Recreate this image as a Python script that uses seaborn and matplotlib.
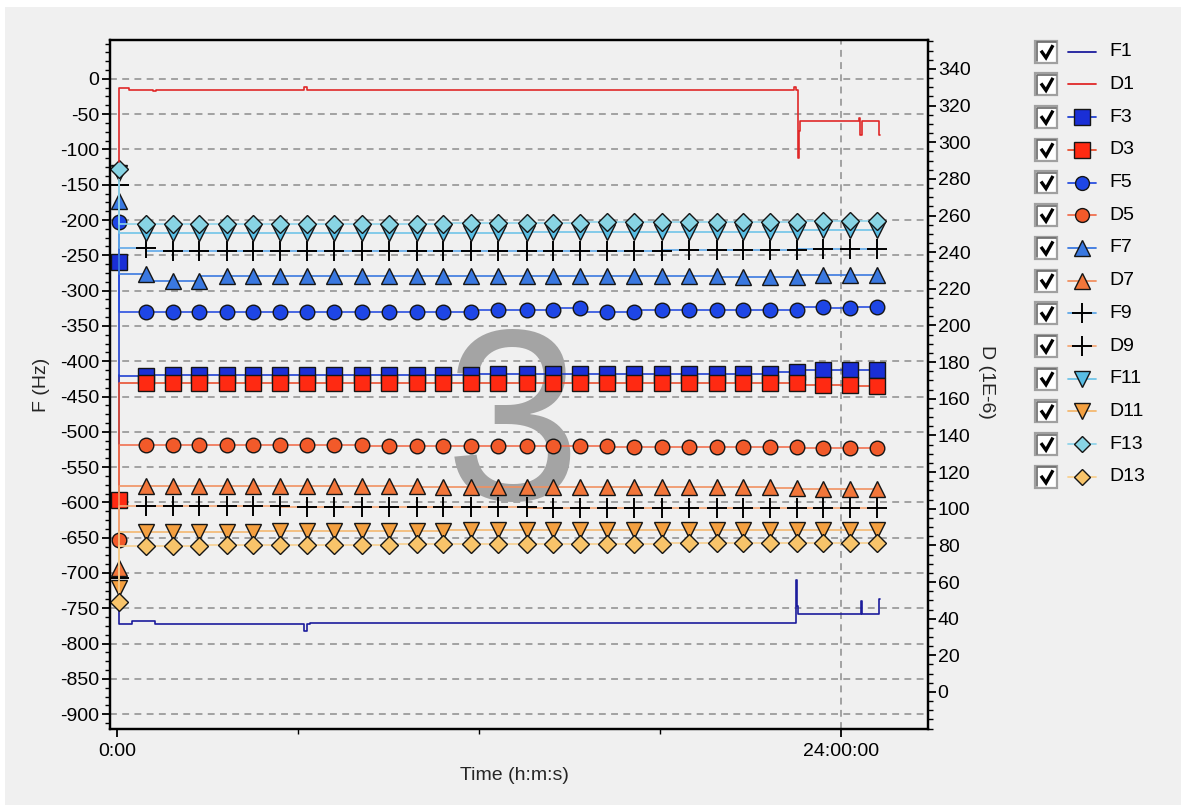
import numpy as np
import pandas as pd
import matplotlib
matplotlib.use("Agg")
import matplotlib.pyplot as plt
from matplotlib.lines import Line2D
from matplotlib.patches import Rectangle
from matplotlib.ticker import MultipleLocator
import seaborn as sns

# ---------------------------------------------------------------- data
# times (hours) of the marked readings of the overtones 3..13
t_marks = [0.06, 0.95, 1.85, 2.73, 3.64, 4.52, 5.40, 6.31, 7.21, 8.11,
           9.03, 9.93, 10.82, 11.72, 12.64, 13.58, 14.46, 15.35, 16.23, 17.14,
           18.05, 18.97, 19.88, 20.76, 21.65, 22.53, 23.41, 24.30, 25.18]

# frequency shifts (Hz)
F3 = [-260, -421, -420, -420, -420, -420, -419, -419, -419, -419,
      -419, -419, -419, -419, -418, -418, -418, -418, -418, -418,
      -418, -418, -418, -418, -418, -416, -413, -413, -413]
F5 = [-203, -331, -331, -331, -331, -331, -331, -331, -331, -331,
      -331, -331, -331, -331, -327, -327, -327, -325, -330, -330,
      -328, -328, -328, -328, -328, -327, -323, -325, -323]
F7 = [-173.5, -277, -286, -286, -280, -280, -280, -280, -280, -280,
      -280, -280, -280, -280, -280, -280, -280, -280, -280, -280,
      -280, -280, -280, -281, -281, -281, -277.5, -277.5, -277.5]
F9 = [-150, -240, -244, -244, -244, -244, -244, -244, -244, -244,
      -244, -244, -244, -244, -244, -244, -244, -244, -244, -243.5,
      -243.5, -243, -243, -243, -243, -243, -241, -241, -241]
F11 = [-133, -218, -218, -218, -218, -218, -218, -218, -218, -218,
       -218, -218, -218, -218, -218, -218, -217.5, -217.5, -217.5, -217.5,
       -217, -217, -217, -217, -217, -217, -214, -214, -214]
F13 = [-127.8, -205, -205, -205, -205, -205, -205, -205, -205, -205,
       -205, -205, -205, -204.5, -204.5, -204, -204, -204, -203.5, -203.5,
       -203, -203, -203, -203, -202.5, -202.5, -201, -201, -201]

# dissipation shifts (1E-6)
D3 = [104.5, 168.5, 168.7, 168.7, 168.7, 168.7, 168.7, 168.7, 168.7, 168.7,
      168.7, 168.7, 168.7, 168.7, 168.7, 168.7, 168.7, 168.7, 168.7, 168.7,
      168.7, 168.7, 168.7, 168.7, 168.7, 168.5, 167.7, 167.7, 166.9]
D5 = [83, 134.8, 134.8, 134.8, 134.8, 134.8, 134.8, 134.8, 134.8, 134.6,
      134.5, 134.5, 134.4, 134.4, 134.3, 134.2, 134.2, 134.0, 134.0, 133.9,
      133.8, 133.7, 133.6, 133.6, 133.6, 133.6, 133.2, 133.2, 133.0]
D7 = [67.7, 112.5, 112.5, 112.5, 112.5, 112.4, 112.4, 112.4, 112.3, 112.3,
      112.2, 112.2, 112.1, 112.1, 112.0, 112.0, 111.9, 111.9, 111.8, 111.8,
      111.7, 111.7, 111.6, 111.6, 111.6, 111.2, 110.7, 110.7, 110.7]
D9 = [62, 101.7, 101.6, 101.5, 101.5, 101.4, 101.3, 101.2, 101.1, 101.0,
      101.0, 100.9, 100.8, 100.8, 100.7, 100.7, 100.6, 100.6, 100.5, 100.5,
      100.4, 100.4, 100.3, 100.3, 100.3, 100.3, 100.3, 100.3, 100.3]
D11 = [56.8, 87.1, 87.3, 87.3, 87.5, 87.5, 87.6, 87.8, 87.8, 87.9,
       88.0, 88.0, 88.1, 88.2, 88.2, 88.2, 88.3, 88.4, 88.4, 88.4,
       88.5, 88.5, 88.6, 88.6, 88.6, 88.6, 88.6, 88.6, 88.6]
D13 = [49.3, 79.7, 79.8, 79.9, 80.0, 80.0, 80.1, 80.2, 80.3, 80.3,
       80.4, 80.5, 80.5, 80.6, 80.7, 80.7, 80.8, 80.9, 80.9, 81.0,
       81.0, 81.1, 81.1, 81.2, 81.2, 81.2, 81.2, 81.2, 81.2]

# fundamental, recorded continuously
t_F1 = [0.06, 0.07, 0.50, 0.52, 1.26, 1.43, 6.20, 6.30, 6.40, 22.50,
        22.54, 22.58, 22.65, 24.66, 24.70, 24.74, 25.26, 25.29]
F1 = [-420, -772, -772, -768, -768, -772, -772, -782, -772, -771,
      -710, -747, -758, -758, -739, -758, -758, -737]
t_D1 = [0.06, 0.07, 0.40, 0.45, 1.20, 1.30, 1.40, 6.20, 6.30, 6.40,
        22.45, 22.50, 22.56, 22.60, 22.63, 22.68, 24.60, 24.63, 24.66, 24.70,
        24.80, 25.26, 25.29]
D1 = [289, 329.5, 329.5, 328.6, 328.6, 327.7, 328.6, 328.6, 330.0, 328.6,
      328.6, 330.4, 328.6, 291.3, 306, 311.8, 311.8, 313.5, 304, 304,
      311.8, 311.8, 304]

y_ticks_F = list(range(-900, 1, 50))
y_ticks_D = list(range(0, 341, 20))
x_major = [0, 24]
x_major_labels = ["0:00", "24:00:00"]
x_minor = [6, 12, 18]

# ---------------------------------------------------------------- styles
BG = "#f0f0f0"
styles = {
    "F1":  dict(line="#1c1c9c", marker=None),
    "D1":  dict(line="#e02828", marker=None),
    "F3":  dict(line="#2040d0", marker="s", face="#1a2fd6", ms=11.5),
    "D3":  dict(line="#e85030", marker="s", face="#ff2a12", ms=11.5),
    "F5":  dict(line="#2a50e0", marker="o", face="#1e46e6", ms=10.5),
    "D5":  dict(line="#f07050", marker="o", face="#f25a2a", ms=10.5),
    "F7":  dict(line="#3a78e0", marker="^", face="#3a78e0", ms=12),
    "D7":  dict(line="#f09060", marker="^", face="#f2763a", ms=12),
    "F9":  dict(line="#60a8e8", marker="+", face="black", ms=15),
    "D9":  dict(line="#f4a878", marker="+", face="black", ms=15),
    "F11": dict(line="#70c4e8", marker="v", face="#58bde4", ms=11.5),
    "D11": dict(line="#f4b870", marker="v", face="#f4a040", ms=11.5),
    "F13": dict(line="#90d4ea", marker="D", face="#88d4e4", ms=9),
    "D13": dict(line="#f8d090", marker="D", face="#f8c46a", ms=9),
}

sns.set_theme(style="ticks")
plt.rcParams["font.family"] = ["Liberation Sans", "DejaVu Sans"]
plt.rcParams["axes.unicode_minus"] = False

W, H = 1181, 805
fig = plt.figure(figsize=(W / 100, H / 100), dpi=100, facecolor=BG)


def fx(px):
    return px / W


def fy(py):
    return 1 - py / H


# thin white frame on the top and left edges
fig.add_artist(Rectangle((0, 0), fx(5), 1, transform=fig.transFigure,
                         fc="white", ec="none"))
fig.add_artist(Rectangle((0, fy(7)), 1, 7 / H, transform=fig.transFigure,
                         fc="white", ec="none"))

ax = fig.add_axes([fx(110), fy(729), (928 - 110) / W, (729 - 40) / H])
ax.set_facecolor(BG)
ax2 = ax.twinx()


def draw(axis, name, t, vals):
    st = styles[name]
    df = pd.DataFrame({"time": t, "value": vals})
    kw = dict(color=st["line"], linewidth=1.2, drawstyle="steps-pre")
    if st["marker"] is not None:
        if st["marker"] == "+":
            kw.update(marker="+", markersize=st["ms"], markeredgecolor="black",
                      markeredgewidth=1.4)
        else:
            kw.update(marker=st["marker"], markersize=st["ms"],
                      markerfacecolor=st["face"], markeredgecolor="#151515",
                      markeredgewidth=1.0)
    sns.lineplot(data=df, x="time", y="value", ax=axis, estimator=None,
                 errorbar=None, legend=False, **kw)


draw(ax, "F1", t_F1, F1)
draw(ax, "F3", t_marks, F3)
draw(ax, "F5", t_marks, F5)
draw(ax, "F7", t_marks, F7)
draw(ax, "F9", t_marks, F9)
draw(ax, "F11", t_marks, F11)
draw(ax, "F13", t_marks, F13)
draw(ax2, "D1", t_D1, D1)
draw(ax2, "D3", t_marks, D3)
draw(ax2, "D5", t_marks, D5)
draw(ax2, "D7", t_marks, D7)
draw(ax2, "D9", t_marks, D9)
draw(ax2, "D11", t_marks, D11)
draw(ax2, "D13", t_marks, D13)

# ---------------------------------------------------------------- axes
ax.set_xlim(-0.23, 26.88)
ax.set_ylim(-921, 55)
ax2.set_ylim(-20.2, 355.8)

ax.set_xticks(x_major)
ax.set_xticklabels(x_major_labels)
ax.set_xticks(x_minor, minor=True)
ax.set_yticks(y_ticks_F)
ax.set_yticklabels([str(v) for v in y_ticks_F])
ax.yaxis.set_minor_locator(MultipleLocator(12.5))
ax2.set_yticks(y_ticks_D)
ax2.set_yticklabels([str(v) for v in y_ticks_D])
ax2.yaxis.set_minor_locator(MultipleLocator(5))

for a in (ax, ax2):
    a.tick_params(which="major", direction="out", length=6, width=1.3,
                  labelsize=14, colors="black")
    a.tick_params(which="minor", direction="out", length=3.5, width=1.0,
                  colors="black")
    for s in a.spines.values():
        s.set_color("black")
        s.set_linewidth(1.6)
ax.tick_params(axis="y", pad=2)
ax.tick_params(axis="x", pad=4)
ax2.tick_params(axis="y", pad=1)

grid_kw = dict(color="#8c8c8c", linestyle=(0, (4.5, 3.5)), linewidth=1.1)
ax.grid(axis="y", which="major", **grid_kw)
ax.grid(axis="x", which="major", **grid_kw)
# the start of the run sits on the left edge; only the day mark gets a line
ax.xaxis.get_gridlines()[0].set_visible(False)

ax.set_xlabel("Time (h:m:s)", fontsize=14)
ax.set_ylabel("F (Hz)", fontsize=14)
ax2.set_ylabel("D (1E-6)", fontsize=14, rotation=270)
ax.xaxis.set_label_coords((514 - 110) / 818, (729 - 775) / 689)
ax.yaxis.set_label_coords((42 - 110) / 818, (729 - 385) / 689)
ax2.yaxis.set_label_coords((986 - 110) / 818, (729 - 382) / 689)
for lab in (ax.xaxis.label, ax.yaxis.label, ax2.yaxis.label):
    lab.set_ha("center")
    lab.set_va("center")

# overtone number shown in the background of the plot
ax.text((513 - 110) / 818, (729 - 500) / 689, "3", transform=ax.transAxes,
        fontsize=176, color="#a4a4a4", ha="center", va="baseline", zorder=1.6)

# ---------------------------------------------------------------- legend
order = ["F1", "D1", "F3", "D3", "F5", "D5", "F7", "D7",
         "F9", "D9", "F11", "D11", "F13", "D13"]
for i, name in enumerate(order):
    st = styles[name]
    yc = 51.7 + 32.7 * i
    fig.add_artist(Rectangle((fx(1035), fy(yc + 11)), 22 / W, 22 / H,
                             transform=fig.transFigure, fc="white",
                             ec="#a0a0a0", lw=1.6))
    fig.add_artist(Line2D([fx(1036.5), fx(1036.5), fx(1055.5)],
                          [fy(yc + 9.5), fy(yc - 9.5), fy(yc - 9.5)],
                          transform=fig.transFigure, color="#6a6a6a", lw=1.2))
    fig.add_artist(Line2D([fx(1041), fx(1046), fx(1053)],
                          [fy(yc - 1), fy(yc + 6), fy(yc - 6.5)],
                          transform=fig.transFigure, color="black", lw=2.4,
                          solid_joinstyle="miter", solid_capstyle="butt"))
    fig.add_artist(Line2D([fx(1068), fx(1096)], [fy(yc), fy(yc)],
                          transform=fig.transFigure, color=st["line"], lw=1.3))
    if st["marker"] is not None:
        if st["marker"] == "+":
            mk = dict(marker="+", markersize=st["ms"], markeredgecolor="black",
                      markeredgewidth=1.4)
        else:
            mk = dict(marker=st["marker"], markersize=st["ms"] * 0.95,
                      markerfacecolor=st["face"], markeredgecolor="#151515",
                      markeredgewidth=1.0)
        fig.add_artist(Line2D([fx(1082)], [fy(yc)], transform=fig.transFigure,
                              linestyle="none", **mk))
    fig.text(fx(1109), fy(yc), name, ha="left", va="center", fontsize=14,
             color="black")

fig.savefig("out.png", dpi=100, facecolor=BG)
